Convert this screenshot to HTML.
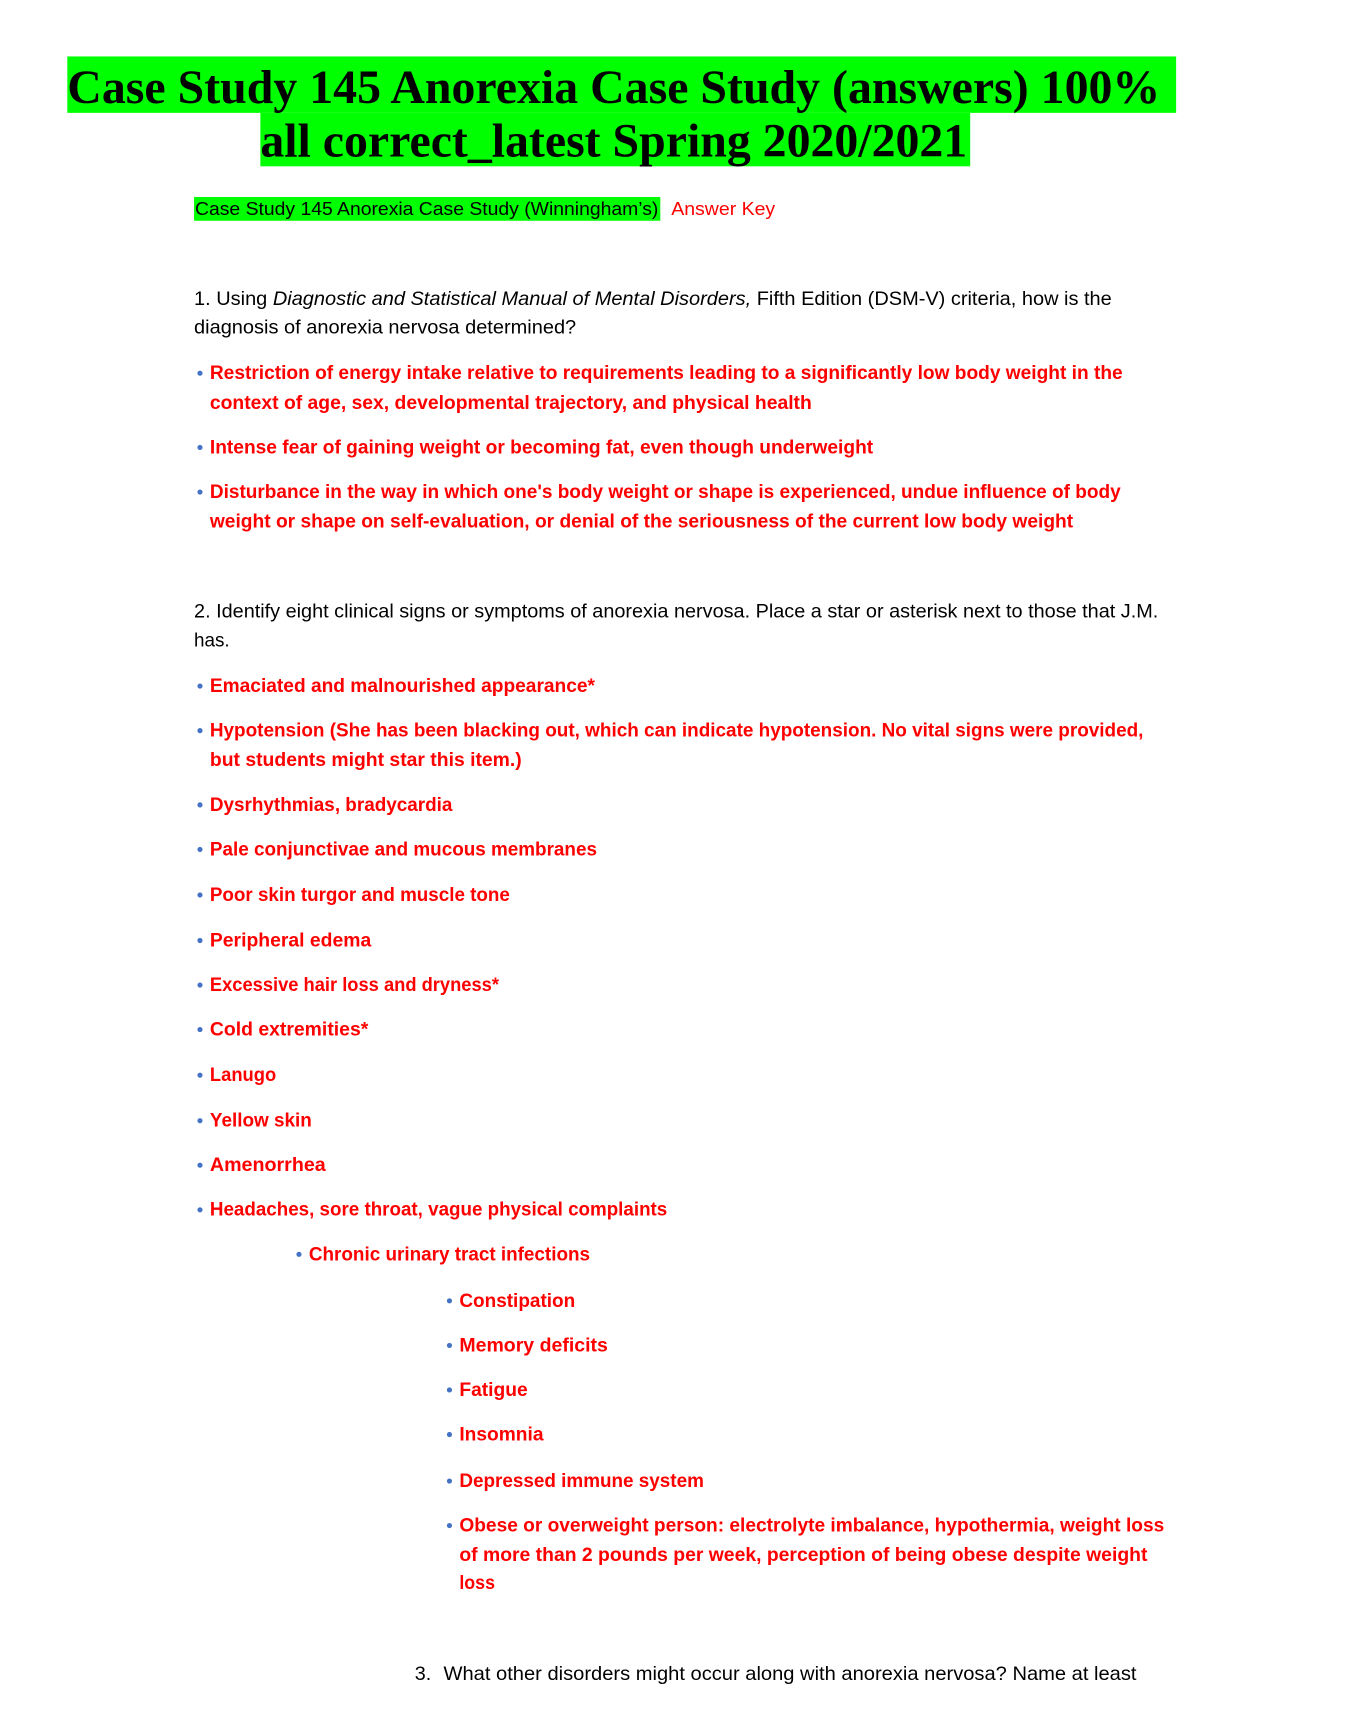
<!DOCTYPE html>
<html><head><meta charset="utf-8"><style>html,body{margin:0;padding:0;background:#fff}svg{display:block}</style></head>
<body>
<svg width="1368" height="1710" xmlns="http://www.w3.org/2000/svg" font-family="Liberation Sans, sans-serif">
<g transform="scale(0.99)">
<rect x="68" y="57" width="1120" height="57" fill="#00ff00"/>
<rect x="263" y="114" width="717" height="54" fill="#00ff00"/>
<g font-family="Liberation Serif, serif" font-weight="bold" font-size="48" fill="#000">
<text x="68" y="104" textLength="1104" lengthAdjust="spacingAndGlyphs">Case Study 145 Anorexia Case Study (answers) 100%</text>
<text x="263" y="158" textLength="714" lengthAdjust="spacingAndGlyphs">all correct_latest Spring 2020/2021</text>
</g>
<rect x="196" y="199" width="471" height="24" fill="#00ff00"/>
<text x="197" y="217" font-size="19" textLength="468" lengthAdjust="spacingAndGlyphs">Case Study 145 Anorexia Case Study (Winningham’s)</text>
<text x="678" y="217" font-size="19" fill="#ff0000" textLength="105" lengthAdjust="spacingAndGlyphs">Answer Key</text>

<g font-size="20" fill="#000">
<text x="196" y="308" textLength="927" lengthAdjust="spacingAndGlyphs">1. Using <tspan font-style="italic">Diagnostic and Statistical Manual of Mental Disorders,</tspan> Fifth Edition (DSM-V) criteria, how is the</text>
<text x="196" y="337" textLength="386" lengthAdjust="spacingAndGlyphs">diagnosis of anorexia nervosa determined?</text>
<text x="196" y="624" textLength="974" lengthAdjust="spacingAndGlyphs">2. Identify eight clinical signs or symptoms of anorexia nervosa. Place a star or asterisk next to those that J.M.</text>
<text x="196" y="653" textLength="36" lengthAdjust="spacingAndGlyphs">has.</text>
<text x="419" y="1697">3.</text>
<text x="448" y="1697" textLength="700" lengthAdjust="spacingAndGlyphs">What other disorders might occur along with anorexia nervosa? Name at least</text>
</g>

<g fill="#4472c4">
<circle cx="202" cy="377" r="2.6"/><circle cx="202" cy="452" r="2.6"/><circle cx="202" cy="497" r="2.6"/>
<circle cx="202" cy="693" r="2.6"/><circle cx="202" cy="738" r="2.6"/><circle cx="202" cy="813" r="2.6"/>
<circle cx="202" cy="858" r="2.6"/><circle cx="202" cy="904" r="2.6"/><circle cx="202" cy="950" r="2.6"/>
<circle cx="202" cy="995" r="2.6"/><circle cx="202" cy="1040" r="2.6"/><circle cx="202" cy="1086" r="2.6"/>
<circle cx="202" cy="1132" r="2.6"/><circle cx="202" cy="1177" r="2.6"/><circle cx="202" cy="1222" r="2.6"/>
<circle cx="302" cy="1267" r="2.6"/>
<circle cx="454" cy="1314" r="2.6"/><circle cx="454" cy="1359" r="2.6"/><circle cx="454" cy="1404" r="2.6"/>
<circle cx="454" cy="1449" r="2.6"/><circle cx="454" cy="1496" r="2.6"/><circle cx="454" cy="1541" r="2.6"/>
</g>

<g font-size="20" font-weight="bold" fill="#ff0000">
<text x="212" y="383" textLength="922" lengthAdjust="spacingAndGlyphs">Restriction of energy intake relative to requirements leading to a significantly low body weight in the</text>
<text x="212" y="413" textLength="608" lengthAdjust="spacingAndGlyphs">context of age, sex, developmental trajectory, and physical health</text>
<text x="212" y="458" textLength="670" lengthAdjust="spacingAndGlyphs">Intense fear of gaining weight or becoming fat, even though underweight</text>
<text x="212" y="503" textLength="920" lengthAdjust="spacingAndGlyphs">Disturbance in the way in which one's body weight or shape is experienced, undue influence of body</text>
<text x="212" y="533" textLength="872" lengthAdjust="spacingAndGlyphs">weight or shape on self-evaluation, or denial of the seriousness of the current low body weight</text>
<text x="212" y="699" textLength="389" lengthAdjust="spacingAndGlyphs">Emaciated and malnourished appearance*</text>
<text x="212" y="744" textLength="943" lengthAdjust="spacingAndGlyphs">Hypotension (She has been blacking out, which can indicate hypotension. No vital signs were provided,</text>
<text x="212" y="774" textLength="315" lengthAdjust="spacingAndGlyphs">but students might star this item.)</text>
<text x="212" y="819" textLength="245" lengthAdjust="spacingAndGlyphs">Dysrhythmias, bradycardia</text>
<text x="212" y="864" textLength="391" lengthAdjust="spacingAndGlyphs">Pale conjunctivae and mucous membranes</text>
<text x="212" y="910" textLength="303" lengthAdjust="spacingAndGlyphs">Poor skin turgor and muscle tone</text>
<text x="212" y="956" textLength="163" lengthAdjust="spacingAndGlyphs">Peripheral edema</text>
<text x="212" y="1001" textLength="292" lengthAdjust="spacingAndGlyphs">Excessive hair loss and dryness*</text>
<text x="212" y="1046" textLength="160" lengthAdjust="spacingAndGlyphs">Cold extremities*</text>
<text x="212" y="1092" textLength="67" lengthAdjust="spacingAndGlyphs">Lanugo</text>
<text x="212" y="1138" textLength="103" lengthAdjust="spacingAndGlyphs">Yellow skin</text>
<text x="212" y="1183" textLength="117" lengthAdjust="spacingAndGlyphs">Amenorrhea</text>
<text x="212" y="1228" textLength="462" lengthAdjust="spacingAndGlyphs">Headaches, sore throat, vague physical complaints</text>
<text x="312" y="1273" textLength="284" lengthAdjust="spacingAndGlyphs">Chronic urinary tract infections</text>
<text x="464" y="1320" textLength="117" lengthAdjust="spacingAndGlyphs">Constipation</text>
<text x="464" y="1365" textLength="150" lengthAdjust="spacingAndGlyphs">Memory deficits</text>
<text x="464" y="1410" textLength="69" lengthAdjust="spacingAndGlyphs">Fatigue</text>
<text x="464" y="1455" textLength="85" lengthAdjust="spacingAndGlyphs">Insomnia</text>
<text x="464" y="1502" textLength="247" lengthAdjust="spacingAndGlyphs">Depressed immune system</text>
<text x="464" y="1547" textLength="712" lengthAdjust="spacingAndGlyphs">Obese or overweight person: electrolyte imbalance, hypothermia, weight loss</text>
<text x="464" y="1577" textLength="695" lengthAdjust="spacingAndGlyphs">of more than 2 pounds per week, perception of being obese despite weight</text>
<text x="464" y="1605" textLength="36" lengthAdjust="spacingAndGlyphs">loss</text>
</g>
</g>
</svg>
</body></html>
